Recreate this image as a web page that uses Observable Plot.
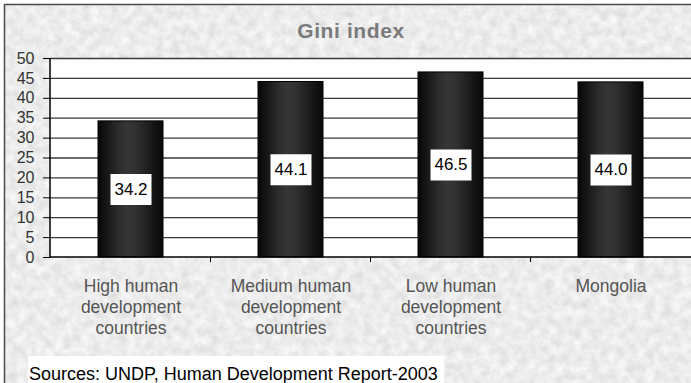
<!DOCTYPE html>
<html>
<head>
<meta charset="utf-8">
<script src="https://cdn.jsdelivr.net/npm/d3@7"></script>
<script src="https://cdn.jsdelivr.net/npm/@observablehq/plot@0.6"></script>
<style>
  html, body { margin: 0; padding: 0; background: #fff; }
  #chart {
    position: relative; width: 691px; height: 383px; overflow: hidden;
    font-family: "Liberation Sans", Arial, sans-serif;
  }
  #chart > svg { position: absolute; left: 0; top: 0; }
  #title {
    position: absolute; left: 0; width: 702px; top: 19px;
    text-align: center; font-size: 21px; font-weight: bold;
    letter-spacing: 0.6px; color: #7a7a7a; line-height: 24px;
  }
  #source {
    position: absolute; left: 28px; top: 356px; width: 416px; height: 40px;
    background: #fff; color: #000; font-size: 18px; line-height: 20px;
    padding: 8px 0 0 1px; box-sizing: border-box; white-space: nowrap;
  }
</style>
</head>
<body>
<div id="chart"></div>
<script>
// Gini index by development group (UNDP, Human Development Report 2003)
const categories = [
  "High human\ndevelopment\ncountries",
  "Medium human\ndevelopment\ncountries",
  "Low human\ndevelopment\ncountries",
  "Mongolia"
];
const giniValues = [34.2, 44.1, 46.5, 44.0];
const yTicks = [0, 5, 10, 15, 20, 25, 30, 35, 40, 45, 50];
const titleText = "Gini index";
const sourceText = "Sources: UNDP, Human Development Report-2003";

const rows = categories.map((c, i) => ({category: c, value: giniValues[i]}));

const W = 691, H = 383;
const chart = document.getElementById("chart");

// Stone-textured background panel with a thin frame
const bg = d3.create("svg").attr("width", W).attr("height", H);
const f = bg.append("defs").append("filter").attr("id", "stone")
  .attr("x", 0).attr("y", 0).attr("width", "100%").attr("height", "100%");
f.append("feTurbulence").attr("type", "fractalNoise").attr("baseFrequency", "0.11")
  .attr("numOctaves", 4).attr("seed", 7).attr("result", "n");
f.append("feColorMatrix").attr("in", "n").attr("type", "matrix")
  .attr("values", "0.32 0 0 0 0.68  0.32 0 0 0 0.68  0.32 0 0 0 0.68  0 0 0 0 1");
bg.append("rect").attr("x", 4.5).attr("y", 4.5).attr("width", W + 10).attr("height", H + 10)
  .attr("fill", "#d3d3d3").attr("filter", "url(#stone)");
bg.append("rect").attr("x", 4.5).attr("y", 4.5).attr("width", W + 10).attr("height", H + 10)
  .attr("fill", "none").attr("stroke", "#4a4a4a").attr("stroke-width", 1.5);
chart.appendChild(bg.node());

// Cylinder shading for the bars
const gradientDefs = () => {
  const defs = d3.create("svg:defs");
  const g = defs.append("linearGradient").attr("id", "barShade")
    .attr("x1", "0").attr("x2", "1").attr("y1", "0").attr("y2", "0");
  [[0, "#070707"], [0.12, "#151515"], [0.32, "#2c2c2c"], [0.45, "#363636"],
   [0.6, "#2f2f2f"], [0.82, "#191919"], [1, "#080808"]]
    .forEach(([o, c]) => g.append("stop").attr("offset", o).attr("stop-color", c));
  return defs.node();
};

// Axis line on the left and category boundary ticks along the bottom
const frameLines = (index, scales, values, dims) => {
  const x = scales.x, y = scales.y;
  const step = x.step ? x.step() : (dims.width - dims.marginLeft - dims.marginRight) / categories.length;
  const bw = x.bandwidth ? x.bandwidth() : 0;
  const g = d3.create("svg:g").attr("stroke", "#000");
  const y0 = y(0), yTop = y(50);
  g.append("line").attr("x1", dims.marginLeft).attr("x2", dims.marginLeft)
    .attr("y1", yTop).attr("y2", y0 + 0.5).attr("stroke-width", 1.5);
  g.append("line").attr("x1", dims.marginLeft).attr("x2", dims.width)
    .attr("y1", y0).attr("y2", y0).attr("stroke-width", 1.5);
  categories.forEach((c, i) => {
    const bx = x(c) + bw / 2 + step / 2;
    if (i < categories.length - 1)
      g.append("line").attr("x1", bx).attr("x2", bx).attr("y1", y0).attr("y2", y0 + 5);
  });
  return g.node();
};

// White label box behind each value
const labelBox = {
  draw(context) { context.rect(-20.5, -15.5, 41, 31); }
};

const plot = Plot.plot({
  width: W,
  height: H,
  marginTop: 58,
  marginBottom: 126,
  marginLeft: 50,
  marginRight: 0,
  style: {background: "transparent", fontFamily: "'Liberation Sans', Arial, sans-serif", overflow: "visible"},
  x: {domain: categories, paddingInner: 0.594, paddingOuter: 0.297, label: null},
  y: {domain: [0, 50], label: null},
  marks: [
    gradientDefs,
    Plot.frame({fill: "white", stroke: null}),
    Plot.ruleY(yTicks.filter(t => t > 0), {stroke: "#3a3a3a", strokeWidth: 1.3}),
    Plot.barY(rows, {x: "category", y: "value", fill: "url(#barShade)", stroke: "#000", strokeWidth: 1}),
    Plot.dot(rows, {x: "category", y: d => d.value / 2, symbol: labelBox, fill: "white", stroke: null}),
    Plot.text(rows, {x: "category", y: d => d.value / 2, text: d => d.value.toFixed(1),
      fontSize: 17, fill: "#000"}),
    Plot.axisY(yTicks, {tickSize: 7, tickPadding: 9, fontSize: 16, fill: "#333", stroke: "#000", tickFormat: d => String(d)}),
    Plot.axisX({tickSize: 0, tickPadding: 20, fontSize: 17.5, lineHeight: 1.2, fill: "#555"}),
    frameLines
  ]
});
chart.appendChild(plot);

const title = document.createElement("div");
title.id = "title";
title.textContent = titleText;
chart.appendChild(title);

const source = document.createElement("div");
source.id = "source";
source.textContent = sourceText;
chart.appendChild(source);
</script>
</body>
</html>
